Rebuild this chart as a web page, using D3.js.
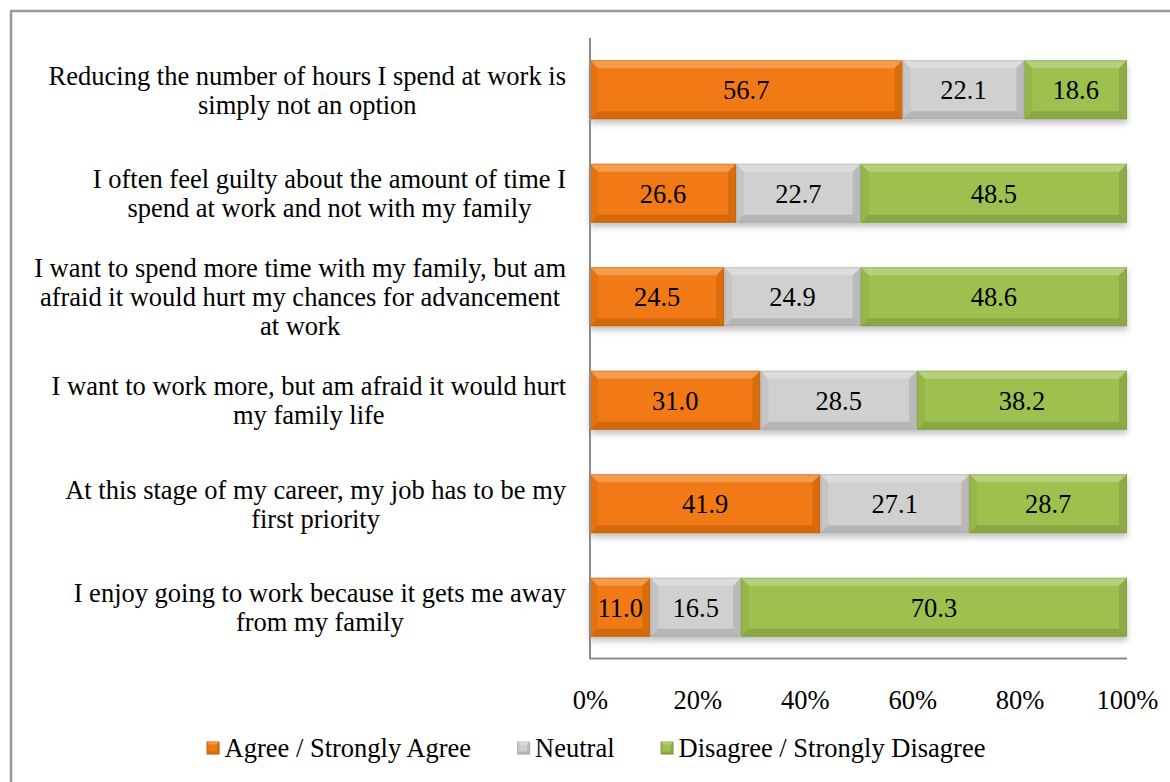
<!DOCTYPE html>
<html>
<head>
<meta charset="utf-8">
<script src="https://cdn.jsdelivr.net/npm/d3@7"></script>
<style>
  html, body { margin: 0; padding: 0; background: #fff; }
  svg { display: block; }
  text { font-family: "Liberation Serif", "Times New Roman", serif; fill: #000; }
</style>
</head>
<body>
<svg id="chart" width="1170" height="782"></svg>
<script>
// Survey statements (top to bottom), wrapped as shown on the axis
const categories = [
  ["Reducing the number of hours I spend at work is", "simply not an option"],
  ["I often feel guilty about the amount of time I", "spend at work and not with my family"],
  ["I want to spend more time with my family, but am", "afraid it would hurt my chances for advancement", "at work"],
  ["I want to work more, but am afraid it would hurt", "my family life"],
  ["At this stage of my career, my job has to be my", "first priority"],
  ["I enjoy going to work because it gets me away", "from my family"]
];
const seriesNames = ["Agree / Strongly Agree", "Neutral", "Disagree / Strongly Disagree"];
const agree    = [56.7, 26.6, 24.5, 31.0, 41.9, 11.0];
const neutral  = [22.1, 22.7, 24.9, 28.5, 27.1, 16.5];
const disagree = [18.6, 48.5, 48.6, 38.2, 28.7, 70.3];
const tickValues = [0, 0.2, 0.4, 0.6, 0.8, 1.0];

const colors = ["#F27A12", "#D0D0D0", "#9DC04F"];

const rows = categories.map((c, i) => ({
  key: i, label: c,
  s0: agree[i], s1: neutral[i], s2: disagree[i]
}));

const svg = d3.select("#chart");
const FONT = 26.5;

// outer chart frame
svg.append("rect")
  .attr("x", 11).attr("y", 11).attr("width", 1200).attr("height", 800)
  .attr("fill", "none").attr("stroke", "#9a9a9a").attr("stroke-width", 2.5);

const defs = svg.append("defs");
const f = defs.append("filter").attr("id", "shadow")
  .attr("x", "-5%").attr("y", "-20%").attr("width", "110%").attr("height", "160%");
f.append("feDropShadow").attr("dx", 0).attr("dy", 4).attr("stdDeviation", 3)
  .attr("flood-color", "#000").attr("flood-opacity", 0.25);

const x = d3.scaleLinear().domain([0, 1]).range([590, 1127]);
const y = d3.scaleBand().domain(rows.map(d => d.key)).range([38, 659]).paddingInner(0.43).paddingOuter(0.215);

const stack = d3.stack().keys(["s0", "s1", "s2"]).offset(d3.stackOffsetExpand);
const layers = stack(rows);

// beveled rectangle drawn as base fill plus light/dark edge facets
function bevel(g, x0, y0, w, h, color, b) {
  b = Math.min(b, w / 2, h / 2);
  g.append("rect").attr("x", x0).attr("y", y0).attr("width", w).attr("height", h).attr("fill", color);
  const facets = [
    { pts: [[x0, y0], [x0 + w, y0], [x0 + w - b, y0 + b], [x0 + b, y0 + b]], fill: "#fff", op: 0.25 },
    { pts: [[x0, y0 + h], [x0 + w, y0 + h], [x0 + w - b, y0 + h - b], [x0 + b, y0 + h - b]], fill: "#000", op: 0.13 },
    { pts: [[x0, y0], [x0 + b, y0 + b], [x0 + b, y0 + h - b], [x0, y0 + h]], fill: "#000", op: 0.05 },
    { pts: [[x0 + w, y0], [x0 + w - b, y0 + b], [x0 + w - b, y0 + h - b], [x0 + w, y0 + h]], fill: "#000", op: 0.1 }
  ];
  facets.forEach(fc => {
    g.append("polygon").attr("points", fc.pts.map(p => p.join(",")).join(" "))
      .attr("fill", fc.fill).attr("fill-opacity", fc.op);
  });
  g.append("rect").attr("x", x0 + 0.5).attr("y", y0 + 0.5).attr("width", w - 1).attr("height", h - 1)
    .attr("fill", "none").attr("stroke", d3.color(color).darker(0.8)).attr("stroke-opacity", 0.4).attr("stroke-width", 1);
}

// bars
const barsG = svg.append("g");
rows.forEach((r, i) => {
  const rowG = barsG.append("g").attr("filter", "url(#shadow)");
  layers.forEach((layer, li) => {
    const d = layer[i];
    const x0 = x(d[0]), x1 = x(d[1]);
    bevel(rowG, x0, y(r.key), x1 - x0, y.bandwidth(), colors[li], 8);
  });
});

// value labels
const labelsG = svg.append("g");
layers.forEach((layer, li) => {
  layer.forEach((d, i) => {
    const val = rows[i]["s" + li];
    labelsG.append("text")
      .attr("x", (x(d[0]) + x(d[1])) / 2)
      .attr("y", y(rows[i].key) + y.bandwidth() / 2)
      .attr("dy", "0.35em")
      .attr("text-anchor", "middle")
      .attr("font-size", FONT)
      .text(val.toFixed(1));
  });
});

// axes lines
svg.append("line").attr("x1", 590).attr("x2", 590).attr("y1", 38).attr("y2", 659)
  .attr("stroke", "#8c8c8c").attr("stroke-width", 2);
svg.append("line").attr("x1", 589).attr("x2", 1127).attr("y1", 658.5).attr("y2", 658.5)
  .attr("stroke", "#8c8c8c").attr("stroke-width", 2);

// x tick labels
const xAxis = d3.axisBottom(x).tickValues(tickValues).tickFormat(d3.format(".0%")).tickSize(0).tickPadding(0);
const xg = svg.append("g").attr("transform", "translate(0,700)").call(xAxis);
xg.select(".domain").remove();
xg.selectAll("text").attr("font-size", FONT).attr("font-family", null).attr("dy", "0.35em").attr("y", 0);

// category labels: lines centered in a block right-aligned against the axis
const catG = svg.append("g");
const lineH = 29;
rows.forEach(r => {
  const cy = y(r.key) + y.bandwidth() / 2;
  const n = r.label.length;
  const g = catG.append("g");
  const texts = r.label.map((ln, k) => g.append("text")
    .attr("font-size", FONT)
    .attr("y", cy + (k - (n - 1) / 2) * lineH)
    .attr("dy", "0.35em")
    .attr("text-anchor", "middle")
    .text(ln));
  const maxW = d3.max(texts, t => t.node().getComputedTextLength());
  const center = 566 - maxW / 2;
  texts.forEach(t => t.attr("x", center));
});

// legend
const legendG = svg.append("g");
const legendY = 748;
const items = seriesNames.map((name, i) => {
  const g = legendG.append("g");
  bevel(g, 0, -6.5, 13, 13, colors[i], 3);
  const t = g.append("text").attr("x", 18).attr("y", 0).attr("dy", "0.35em").attr("font-size", FONT).text(name);
  return { g, w: 18 + t.node().getComputedTextLength() };
});
const gap = 46;
const totalW = d3.sum(items, d => d.w) + gap * (items.length - 1);
let lx = 596 - totalW / 2;
items.forEach(it => {
  it.g.attr("transform", `translate(${lx},${legendY})`);
  lx += it.w + gap;
});
</script>
</body>
</html>
